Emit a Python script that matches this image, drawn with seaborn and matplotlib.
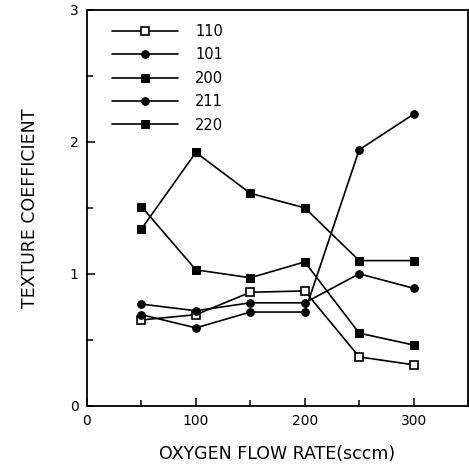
import matplotlib
matplotlib.use("Agg")
import matplotlib.pyplot as plt
import seaborn as sns
import pandas as pd
import numpy as np
from matplotlib.ticker import MultipleLocator

flow = [50, 100, 150, 200, 250, 300]
tc_110 = [0.65, 0.69, 0.86, 0.87, 0.37, 0.31]
tc_101 = [0.69, 0.59, 0.71, 0.71, 1.94, 2.21]
tc_200 = [1.51, 1.03, 0.97, 1.09, 0.55, 0.46]
tc_211 = [0.77, 0.72, 0.78, 0.78, 1.00, 0.89]
tc_220 = [1.34, 1.92, 1.61, 1.50, 1.10, 1.10]
labels = ["110", "101", "200", "211", "220"]

series = [tc_110, tc_101, tc_200, tc_211, tc_220]
df = pd.DataFrame({
    "flow": flow * len(labels),
    "tc": sum(series, []),
    "plane": sum([[l] * len(flow) for l in labels], []),
})

sns.set_style("ticks", {"text.color": "black", "axes.labelcolor": "black",
                        "xtick.color": "black", "ytick.color": "black",
                        "axes.edgecolor": "black"})
plt.rcParams["font.family"] = ["DejaVu Sans"]

fig = plt.figure(figsize=(4.69, 4.70), dpi=100)
ax = fig.add_axes([0.1855, 0.1368, 0.8125, 0.842])

styles = {
    "110": dict(marker="s", ms=6, mfc="white", mec="black", mew=1.2),
    "101": dict(marker="o", ms=5.5, mfc="black", mec="black"),
    "200": dict(marker="s", ms=6, mfc="black", mec="black"),
    "211": dict(marker="o", ms=5.5, mfc="black", mec="black"),
    "220": dict(marker="s", ms=6, mfc="black", mec="black"),
}
for lab in labels:
    sub = df[df["plane"] == lab]
    sns.lineplot(data=sub, x="flow", y="tc", ax=ax, color="black", lw=1.2,
                 label=lab, **styles[lab])

ax.set_xlim(0, 350)
ax.set_ylim(0, 3)
ax.xaxis.set_major_locator(MultipleLocator(100))
ax.xaxis.set_minor_locator(MultipleLocator(50))
ax.yaxis.set_major_locator(MultipleLocator(1))
ax.yaxis.set_minor_locator(MultipleLocator(0.5))
ax.tick_params(which="major", direction="in", length=6, width=1.1, labelsize=10, pad=6)
ax.tick_params(which="minor", direction="in", length=4, width=1.1)
for s in ax.spines.values():
    s.set_linewidth(1.3)
    s.set_color("black")

ax.set_xlabel("OXYGEN FLOW RATE(sccm)", fontsize=12.5, labelpad=12)
ax.set_ylabel("TEXTURE COEFFICIENT", fontsize=12.5, labelpad=22)

leg = ax.legend(loc="upper left", bbox_to_anchor=(0.05, 0.98), frameon=False,
                fontsize=10.5, handlelength=4.5, labelspacing=0.58, handletextpad=1.2,
                borderaxespad=0)

fig.savefig("out.png", dpi=100)
